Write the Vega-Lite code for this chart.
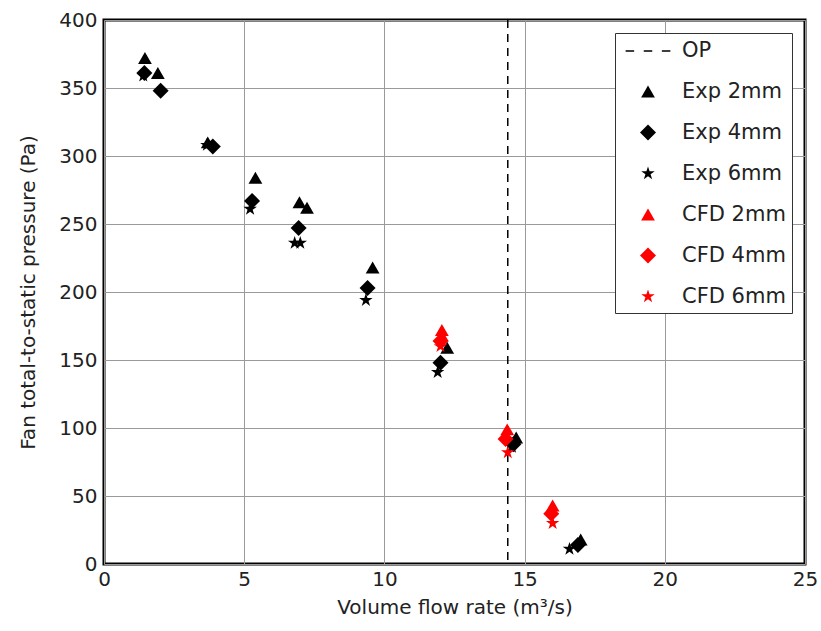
{
  "$schema": "https://vega.github.io/schema/vega-lite/v6.json",
  "autosize": "none",
  "width": 701,
  "height": 544,
  "padding": {"left": 104, "top": 20, "right": 16, "bottom": 67},
  "background": "white",
  "config": {
    "font": "DejaVu Sans",
    "view": {"stroke": "black", "strokeWidth": 3},
    "axis": {
      "grid": true,
      "gridColor": "#9a9a9a",
      "gridWidth": 1,
      "domain": false,
      "ticks": false,
      "labelFlush": false,
      "labelFontSize": 20,
      "labelColor": "#222",
      "titleFontSize": 20,
      "titleFontWeight": "normal",
      "titleColor": "#222"
    },
    "legend": {
      "orient": "none",
      "legendX": 511,
      "legendY": 13,
      "strokeColor": "#333",
      "fillColor": "white",
      "padding": 6,
      "labelFontSize": 21,
      "labelColor": "#222",
      "labelOffset": 22,
      "symbolOffset": 15,
      "rowPadding": 19
    }
  },
  "datasets": {
    "pts": [
      {"q": 1.46, "p": 372, "series": "Exp 2mm"},
      {"q": 1.92, "p": 361, "series": "Exp 2mm"},
      {"q": 3.7, "p": 310, "series": "Exp 2mm"},
      {"q": 5.4, "p": 284, "series": "Exp 2mm"},
      {"q": 6.97, "p": 266, "series": "Exp 2mm"},
      {"q": 7.24, "p": 262, "series": "Exp 2mm"},
      {"q": 9.58, "p": 218, "series": "Exp 2mm"},
      {"q": 12.24, "p": 159, "series": "Exp 2mm"},
      {"q": 14.7, "p": 93, "series": "Exp 2mm"},
      {"q": 17.0, "p": 18, "series": "Exp 2mm"},
      {"q": 1.4, "p": 359, "series": "Exp 6mm"},
      {"q": 3.67, "p": 308, "series": "Exp 6mm"},
      {"q": 5.21, "p": 261, "series": "Exp 6mm"},
      {"q": 6.8, "p": 236, "series": "Exp 6mm"},
      {"q": 7.0, "p": 236, "series": "Exp 6mm"},
      {"q": 9.34, "p": 194, "series": "Exp 6mm"},
      {"q": 11.9, "p": 141, "series": "Exp 6mm"},
      {"q": 14.55, "p": 86, "series": "Exp 6mm"},
      {"q": 16.6, "p": 11, "series": "Exp 6mm"},
      {"q": 1.44, "p": 361, "series": "Exp 4mm"},
      {"q": 2.02, "p": 348, "series": "Exp 4mm"},
      {"q": 3.88, "p": 307, "series": "Exp 4mm"},
      {"q": 5.28, "p": 267, "series": "Exp 4mm"},
      {"q": 6.94, "p": 247, "series": "Exp 4mm"},
      {"q": 9.4, "p": 203, "series": "Exp 4mm"},
      {"q": 12.0, "p": 148, "series": "Exp 4mm"},
      {"q": 14.6, "p": 88, "series": "Exp 4mm"},
      {"q": 16.9, "p": 14, "series": "Exp 4mm"},
      {"q": 12.05, "p": 172, "series": "CFD 2mm"},
      {"q": 12.05, "p": 168, "series": "CFD 2mm"},
      {"q": 14.38, "p": 99, "series": "CFD 2mm"},
      {"q": 16.0, "p": 43, "series": "CFD 2mm"},
      {"q": 12.0, "p": 164, "series": "CFD 4mm"},
      {"q": 14.32, "p": 92, "series": "CFD 4mm"},
      {"q": 15.95, "p": 37, "series": "CFD 4mm"},
      {"q": 12.0, "p": 160, "series": "CFD 6mm"},
      {"q": 14.4, "p": 82, "series": "CFD 6mm"},
      {"q": 16.0, "p": 30, "series": "CFD 6mm"}
    ],
    "op": [{"q": 14.4}]
  },
  "layer": [
    {
      "data": {"name": "op"},
      "mark": {"type": "rule", "color": "black", "strokeWidth": 1.5, "strokeDash": [8, 6]},
      "encoding": {"x": {"field": "q", "type": "quantitative"}}
    },
    {
      "data": {"name": "pts"},
      "mark": {"type": "point", "filled": true, "opacity": 1},
      "encoding": {
        "x": {
          "field": "q", "type": "quantitative",
          "scale": {"domain": [0, 25], "nice": false},
          "axis": {"values": [0, 5, 10, 15, 20, 25], "title": "Volume flow rate (m³/s)", "labelPadding": 5, "titlePadding": 8}
        },
        "y": {
          "field": "p", "type": "quantitative",
          "scale": {"domain": [0, 400], "nice": false},
          "axis": {"values": [0, 50, 100, 150, 200, 250, 300, 350, 400], "title": "Fan total-to-static pressure (Pa)", "labelPadding": 7, "titlePadding": 20}
        },
        "shape": {
          "field": "series", "type": "nominal",
          "scale": {
            "domain": ["OP", "Exp 2mm", "Exp 4mm", "Exp 6mm", "CFD 2mm", "CFD 4mm", "CFD 6mm"],
            "range": [
              "M-2,-0.06L-1.24,-0.06L-1.24,0.06L-2,0.06Z M-0.38,-0.06L0.38,-0.06L0.38,0.06L-0.38,0.06Z M1.24,-0.06L2,-0.06L2,0.06L1.24,0.06Z",
              "triangle-up", "diamond",
              "M0,-1L0.225,-0.309L0.951,-0.309L0.363,0.118L0.588,0.809L0,0.382L-0.588,0.809L-0.363,0.118L-0.951,-0.309L-0.225,-0.309Z",
              "triangle-up", "diamond",
              "M0,-1L0.225,-0.309L0.951,-0.309L0.363,0.118L0.588,0.809L0,0.382L-0.588,0.809L-0.363,0.118L-0.951,-0.309L-0.225,-0.309Z"
            ]
          },
          "legend": {"title": null}
        },
        "color": {
          "field": "series", "type": "nominal",
          "scale": {
            "domain": ["OP", "Exp 2mm", "Exp 4mm", "Exp 6mm", "CFD 2mm", "CFD 4mm", "CFD 6mm"],
            "range": ["black", "black", "black", "black", "red", "red", "red"]
          },
          "legend": {"title": null}
        },
        "size": {
          "field": "series", "type": "nominal",
          "scale": {
            "type": "ordinal",
            "domain": ["OP", "Exp 2mm", "Exp 4mm", "Exp 6mm", "CFD 2mm", "CFD 4mm", "CFD 6mm"],
            "range": [500, 190, 256, 200, 190, 256, 200]
          },
          "legend": {"title": null}
        }
      }
    }
  ]
}
